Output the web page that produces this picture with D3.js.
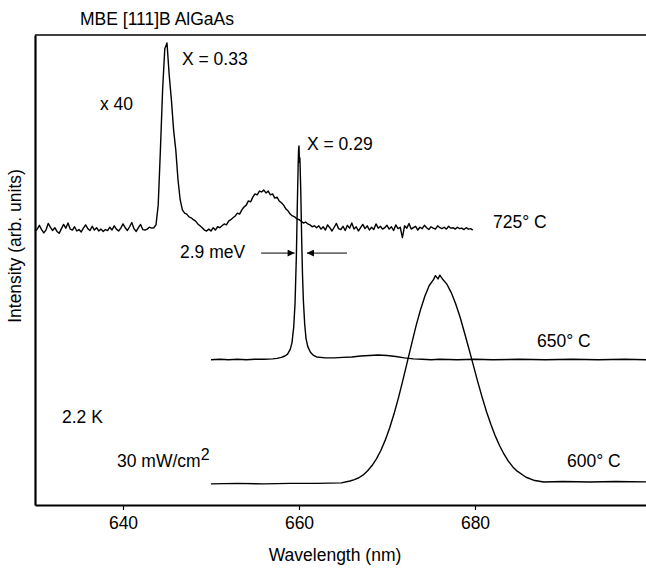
<!DOCTYPE html>
<html>
<head>
<meta charset="utf-8">
<script src="https://cdn.jsdelivr.net/npm/d3@7"></script>
<style>
  body { margin: 0; background: #fff; }
  svg text { font-family: "Liberation Sans", Arial, sans-serif; font-size: 17.5px; fill: #000; }
</style>
</head>
<body>
<div id="chart"></div>
<script>
// x ticks (nm)
const xTicks = [640, 660, 680];

// 725 C sample (x40), sampled every 0.25 nm from 630 nm
const s725Start = 630;
const s725Step = 0.25;
const s725Values = [
  0.2, 0.6, 1.4, 0.5, -0.2, 0.4, 1.8, 1.0, 0.3, 0.9,
  0.1, -0.3, 0.7, 1.6, 0.8, 1.9, 0.6, 0.4, 1.1, 0.2,
  0.5, 0.0, 0.8, 1.5, 0.7, 0.3, 1.2, 0.4, 0.9, 0.2,
  0.6, 0.1, 0.5, 0.3, 1.0, 0.4, 1.3, 0.6, 0.2, 0.8,
  1.7, 0.9, 0.3, 1.1, 2.0, 0.7, 0.1, 0.9, 1.6, 0.5,
  0.4, 0.6, 1.0, 0.8,
  // peak at 644.9 nm
  0.9, 1.5, 5.7, 17.4, 30.2, 39.0, 40.2, 33.4, 28.1, 21.7,
  17.4, 11.1, 6.8, 4.7, 4.0, 3.8, 3.2, 3.0, 2.6, 2.3,
  1.7, 1.3, 0.9, 0.4, 0.2, 0.6, 0.2, 0.9, 0.4, 1.1,
  0.9, 1.3, 1.7, 1.5, 2.3, 2.6, 3.0, 3.4, 4.0, 3.8,
  // broad band around 656 nm
  4.7, 5.3, 5.7, 6.6, 6.4, 7.4, 8.1, 7.9, 8.7, 8.5,
  8.9, 8.3, 8.7, 7.9, 8.1, 7.2, 7.4, 6.6, 6.2, 5.7,
  4.9, 4.5, 3.8, 3.4, 3.2, 2.8, 2.6, 2.3, 1.9, 2.1,
  1.7, 1.5, 1.1, 1.3, 0.9,
  // tail
  1.3, 0.6, 1.1, 0.4, 1.5, 0.9, 0.2, 1.0, 1.8, 0.7,
  0.5, 1.2, 0.3, 1.4, 0.8, 1.9, 0.6, 1.1, 0.2, 0.9,
  1.6, 0.7, 1.3, 0.4, 1.0, 0.5, 1.7, 0.8, 1.2, 0.6,
  0.9, 1.4, 0.6, 1.1, 0.3, 1.5, 0.7, 1.0, -1.2, 1.3,
  0.8, 1.8, 0.6, 0.9, 1.2, 0.4, 1.0, 0.7, 1.4, 0.9,
  0.5, 1.1, 0.8, 0.6, 1.3, 0.9, 0.7, 1.0, 0.6, 1.2,
  0.8, 0.9, 0.6, 1.0, 0.7, 0.8, 0.5, 0.9, 0.6, 0.7, 0.4
];

// 650 C sample
const s650Wl = [650, 651, 652, 653, 654, 655, 656, 657, 657.5, 658, 658.4, 658.7, 659, 659.2, 659.4,
  659.55, 659.7, 659.8, 659.9, 659.95, 660, 660.05, 660.1, 660.2, 660.3, 660.4, 660.5, 660.65,
  660.8, 661, 661.3, 661.6, 662, 663, 664, 665, 666, 667, 668, 669, 670, 671, 672, 673, 674,
  675, 676, 678, 680, 682, 685, 688, 691, 694, 697, 700];
const s650Values = [0.0, 0.1, 0.0, 0.1, 0.0, 0.1, 0.1, 0.2, 0.3, 0.5, 0.8, 1.2, 2.2, 3.6, 7.0,
  12.0, 22.0, 32.0, 41.0, 44.5, 45.5, 42.0, 43.0, 36.0, 26.0, 18.0, 12.5, 7.5,
  4.5, 2.8, 1.6, 1.0, 0.6, 0.4, 0.4, 0.5, 0.6, 0.8, 0.9, 1.0, 0.9, 0.7, 0.4, 0.2, 0.1,
  0.0, 0.1, 0.0, 0.1, 0.0, 0.1, 0.0, 0.1, 0.0, 0.1, 0.0];

// 600 C sample
const s600Wl = [650, 653, 656, 659, 662, 664.8, 665.8, 666.3, 666.8, 667.3, 667.8, 668.3, 668.8,
  669.3, 669.8, 670.3, 670.8, 671.3, 671.8, 672.3, 672.8, 673.3, 673.8, 674.3, 674.8, 675.3,
  675.5, 675.8, 676.0, 676.3, 676.8, 677.3, 677.8, 678.3, 678.8, 679.3, 679.8, 680.3, 680.8,
  681.3, 681.8, 682.3, 682.8, 683.3, 683.8, 684.3, 684.8, 685.8, 686.8, 687.8, 690, 693, 696, 700];
const s600Values = [0.0, 0.1, 0.0, 0.1, 0.1, 0.2, 0.6, 0.9, 1.3, 1.9, 2.8, 3.9, 5.3,
  7.1, 9.3, 11.9, 14.9, 18.3, 22.0, 25.9, 29.8, 33.6, 37.0, 39.9, 42.2, 43.5,
  44.3, 43.6, 44.4, 43.6, 42.5, 40.7, 38.3, 35.5, 32.2, 28.8, 25.3, 21.8, 18.5,
  15.4, 12.7, 10.2, 8.1, 6.3, 4.8, 3.6, 2.7, 1.4, 0.7, 0.4, 0.5, 0.4, 0.5, 0.4];

// vertical offsets of the three traces (arb. units)
const offsets = {s725: 58.1, s650: 30.9, s600: 4.5};

const width = 646, height = 568;
const svg = d3.select('#chart').append('svg')
  .attr('width', width)
  .attr('height', height);

const x = d3.scaleLinear().domain([630, 700]).range([35, 651]);
const y = d3.scaleLinear().domain([0, 100]).range([505, 35]);

const line = d3.line()
  .x(d => x(d[0]))
  .y(d => y(d[1]));

const trace725 = s725Values.map((v, i) => [s725Start + i * s725Step, v + offsets.s725]);
const trace650 = s650Wl.map((w, i) => [w, s650Values[i] + offsets.s650]);
const trace600 = s600Wl.map((w, i) => [w, s600Values[i] + offsets.s600]);

[trace725, trace650, trace600].forEach(tr => {
  svg.append('path')
    .datum(tr)
    .attr('d', line)
    .attr('fill', 'none')
    .attr('stroke', '#000')
    .attr('stroke-width', 1.4)
    .attr('stroke-linejoin', 'round');
});

// top frame line
svg.append('line')
  .attr('x1', x(630)).attr('x2', width)
  .attr('y1', y(100)).attr('y2', y(100))
  .attr('stroke', '#000')
  .attr('stroke-width', 1.5);

// axes
const xAxis = svg.append('g')
  .attr('transform', `translate(0,${y(0)})`)
  .call(d3.axisBottom(x).tickValues(xTicks).tickSize(5).tickSizeOuter(0).tickPadding(7));
xAxis.select('.domain').attr('stroke-width', 2.2);
xAxis.selectAll('.tick line').attr('stroke-width', 1.2);
xAxis.selectAll('text').attr('font-size', null).attr('font-family', null);

const yAxis = svg.append('g')
  .attr('transform', `translate(${x(630)},0)`)
  .call(d3.axisLeft(y).tickValues([]).tickSizeOuter(0));
yAxis.select('.domain').attr('stroke-width', 2.2);

// axis titles
svg.append('text')
  .attr('x', 335)
  .attr('y', 561)
  .attr('text-anchor', 'middle')
  .text('Wavelength (nm)');

svg.append('text')
  .attr('transform', 'translate(21,246) rotate(-90)')
  .attr('text-anchor', 'middle')
  .text('Intensity (arb. units)');

// labels
const labels = [
  {t: 'MBE [111]B AlGaAs', x: 80, y: 25},
  {t: 'X = 0.33', x: 182, y: 65},
  {t: 'x 40', x: 100, y: 110},
  {t: 'X = 0.29', x: 307, y: 150},
  {t: '725° C', x: 493, y: 228},
  {t: '2.9 meV', x: 180, y: 258},
  {t: '650° C', x: 537, y: 347},
  {t: '2.2 K', x: 62, y: 423},
  {t: '600° C', x: 567, y: 467}
];
svg.selectAll('text.lab')
  .data(labels)
  .enter()
  .append('text')
  .attr('class', 'lab')
  .attr('x', d => d.x)
  .attr('y', d => d.y)
  .text(d => d.t);

const power = svg.append('text').attr('x', 117).attr('y', 467);
power.append('tspan').text('30 mW/cm');
power.append('tspan').attr('dy', -7).attr('font-size', '16px').text('2');

// FWHM arrows
svg.append('defs').append('marker')
  .attr('id', 'head')
  .attr('viewBox', '0 0 10 10')
  .attr('refX', 10).attr('refY', 5)
  .attr('markerWidth', 9).attr('markerHeight', 7)
  .attr('markerUnits', 'userSpaceOnUse')
  .attr('orient', 'auto')
  .append('path')
  .attr('d', 'M0,0 L10,5 L0,10 Z')
  .attr('fill', '#000');

const arrowY = y(53.6);
[[655.7, 659.5], [665.45, 660.9]].forEach(([a, b]) => {
  svg.append('line')
    .attr('x1', x(a)).attr('x2', x(b))
    .attr('y1', arrowY).attr('y2', arrowY)
    .attr('stroke', '#000')
    .attr('stroke-width', 1)
    .attr('marker-end', 'url(#head)');
});
</script>
</body>
</html>
